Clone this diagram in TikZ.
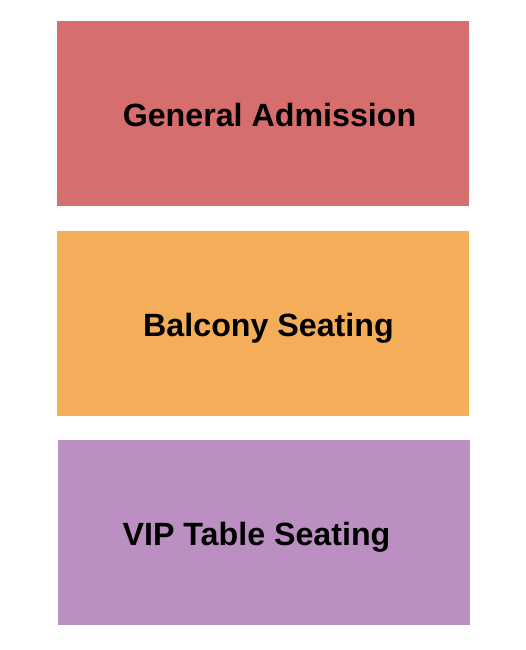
\documentclass[tikz,border=0pt]{standalone}
\usepackage{fontspec}
\setmainfont{Liberation Sans}
\definecolor{gared}{HTML}{D76E6E}
\definecolor{balor}{HTML}{F4AE5A}
\definecolor{vippu}{HTML}{BC8FC2}
\begin{document}
\begin{tikzpicture}[x=1pt,y=-1pt,
  section/.style={inner sep=0pt,outer sep=0pt,minimum width=412pt,minimum height=185pt,anchor=north west},
  label/.style={anchor=base,inner sep=0pt,font=\fontsize{32.2}{36}\selectfont\bfseries}]
\useasboundingbox (0,0) rectangle (525,650);
\node[section,fill=gared] (gabox) at (57,21) {};
\node[section,fill=balor] (bcbox) at (57,230.5) {};
\node[section,fill=vippu] (vipbox) at (58,440) {};
\node[label] (ga) at (269.5,126) {General Admission};
\node[label] (bc) at (268.5,336.5) {Balcony Seating};
\node[label] (vip) at (256.5,545) {VIP Table Seating};
\end{tikzpicture}
\end{document}
